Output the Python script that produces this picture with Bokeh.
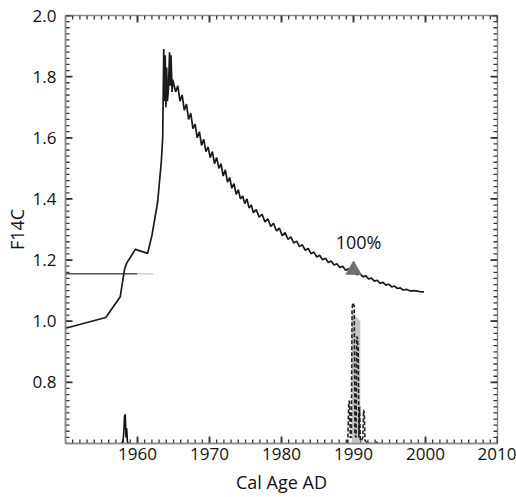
from bokeh.plotting import figure
from bokeh.models import FixedTicker, Range1d, ColumnDataSource
from bokeh.embed import file_html
from bokeh.resources import INLINE
from bokeh.core.properties import value

# ---- data ----
curve_year = [1950.0, 1955.6, 1957.6, 1958.2, 1958.5, 1959.7, 1961.4, 1962.0, 1962.8,
              1963.3, 1963.5, 1963.65, 1963.75, 1963.85, 1963.95, 1964.05, 1964.15, 1964.3,
              1964.45, 1964.55, 1964.65, 1964.8, 1964.9,
              1965.0, 1965.3, 1965.6, 1965.9, 1966.2, 1966.5, 1966.8, 1967.1, 1967.4, 1967.7,
              1968.0, 1968.3, 1968.6, 1968.9, 1969.2, 1969.5, 1969.8, 1970.1, 1970.4, 1970.7,
              1971.0, 1971.3, 1971.6, 1971.9, 1972.2, 1972.5, 1972.8, 1973.1, 1973.4, 1973.7,
              1974.0, 1974.3, 1974.6, 1974.9, 1975.2, 1975.5, 1975.8, 1976.1, 1976.5, 1976.9,
              1977.3, 1977.7, 1978.1, 1978.5, 1978.9, 1979.3, 1979.7, 1980.1, 1980.5, 1980.9,
              1981.3, 1981.7, 1982.1, 1982.5, 1982.9, 1983.3, 1983.7, 1984.1, 1984.5, 1984.9,
              1985.3, 1985.7, 1986.1, 1986.5, 1986.9, 1987.3, 1987.7, 1988.1, 1988.5, 1988.9,
              1989.3, 1989.7, 1990.1, 1990.5, 1990.9, 1991.3, 1991.7, 1992.1, 1992.5, 1992.9,
              1993.3, 1993.7, 1994.1, 1994.5, 1994.9, 1995.3, 1995.7, 1996.1, 1996.5, 1996.9,
              1997.4, 1997.9, 1998.5, 1999.2, 1999.8]
curve_f14c = [0.977, 1.012, 1.08, 1.17, 1.19, 1.235, 1.222, 1.28, 1.39,
              1.52, 1.60, 1.89, 1.72, 1.87, 1.70, 1.83, 1.72, 1.76,
              1.88, 1.77, 1.87, 1.75, 1.79,
              1.78, 1.75, 1.77, 1.72, 1.74, 1.69, 1.71, 1.66, 1.68, 1.63,
              1.645, 1.60, 1.62, 1.575, 1.595, 1.555, 1.57, 1.535, 1.555, 1.515,
              1.535, 1.50, 1.515, 1.475, 1.495, 1.455, 1.47, 1.435, 1.45, 1.415,
              1.43, 1.40, 1.41, 1.385, 1.40, 1.37, 1.38, 1.355, 1.365, 1.34,
              1.35, 1.325, 1.335, 1.31, 1.32, 1.295, 1.305, 1.28, 1.29, 1.268,
              1.276, 1.256, 1.262, 1.244, 1.25, 1.232, 1.238, 1.221, 1.226, 1.21,
              1.216, 1.201, 1.206, 1.192, 1.197, 1.184, 1.188, 1.176, 1.18, 1.167,
              1.172, 1.159, 1.164, 1.152, 1.156, 1.145, 1.149, 1.138, 1.141, 1.131,
              1.134, 1.124, 1.127, 1.118, 1.121, 1.112, 1.115, 1.107, 1.109, 1.102,
              1.104, 1.099, 1.1, 1.097, 1.096]

ref_year = [1950.0, 1960.0]
ref_f14c = [1.155, 1.155]
ref_ext_year = [1960.0, 1962.2]
ref_ext_f14c = [1.155, 1.155]

marker_year = [1990.0]
marker_f14c = [1.168]
marker_label = ["100%"]
label_year = [1990.7]
label_f14c = [1.258]

prob1_year = [1957.8, 1958.0, 1958.1, 1958.2, 1958.3, 1958.4, 1958.5, 1958.6, 1958.8]
prob1_f14c = [0.6, 0.61, 0.64, 0.69, 0.695, 0.62, 0.65, 0.605, 0.6]

prob2_year = [1989.2, 1989.35, 1989.45, 1989.55, 1989.7, 1989.8, 1989.9, 1990.0, 1990.1, 1990.2,
              1990.35, 1990.45, 1990.55, 1990.65, 1990.75, 1990.85, 1990.95, 1991.1, 1991.3,
              1991.4, 1991.5, 1991.6, 1992.0, 1993.2, 1993.3, 1993.45, 1994.0]
prob2_f14c = [0.6, 0.74, 0.735, 0.62, 0.62, 1.04, 1.06, 1.055, 1.05, 0.63,
              0.62, 0.95, 0.945, 0.905, 0.62, 0.72, 0.61, 0.61, 0.62,
              0.71, 0.70, 0.61, 0.6, 0.6, 0.607, 0.6, 0.6]

band_year = [1989.8, 1989.8, 1990.95, 1990.95]
band_f14c = [0.6, 1.03, 1.0, 0.6]

x_ticks = [1960, 1970, 1980, 1990, 2000, 2010]
y_ticks = [0.8, 1.0, 1.2, 1.4, 1.6, 1.8, 2.0]
x_minor = list(range(1950, 2011))
y_minor = [round(0.6 + 0.02 * i, 2) for i in range(71)]

X0, X1 = 1950, 2010
Y0, Y1 = 0.6, 2.0
FRAME_W, FRAME_H = 432, 428
FONT = "Open Sans"

p = figure(frame_width=FRAME_W, frame_height=FRAME_H, output_backend="svg", toolbar_location=None,
           x_range=Range1d(X0, X1), y_range=Range1d(Y0, Y1),
           min_border_left=65, min_border_right=19, min_border_top=15, min_border_bottom=54)
p.grid.visible = False
p.outline_line_color = "#8c8c8c"
p.outline_line_width = 1.5
p.background_fill_color = "white"
p.border_fill_color = "white"

for ax, ticks, minor in ((p.xaxis[0], x_ticks, x_minor), (p.yaxis[0], y_ticks, y_minor)):
    ax.ticker = FixedTicker(ticks=ticks, minor_ticks=minor)
    ax.axis_line_color = "#8c8c8c"
    ax.axis_line_width = 1.5
    ax.major_tick_in = 0
    ax.major_tick_out = 0
    ax.minor_tick_in = 0
    ax.minor_tick_out = 0
    ax.major_label_text_font = FONT
    ax.major_label_text_font_size = "17px"
    ax.major_label_text_color = "#111111"
    ax.axis_label_text_font = FONT
    ax.axis_label_text_font_size = "18px"
    ax.axis_label_text_font_style = "normal"
    ax.axis_label_text_color = "#111111"
p.xaxis[0].major_label_overrides = {t: str(t) for t in x_ticks}
p.yaxis[0].major_label_overrides = {t: f"{t:.1f}" for t in y_ticks}
p.xaxis[0].axis_label = "Cal Age AD"
p.yaxis[0].axis_label = "F14C"
p.xaxis[0].major_label_standoff = 4
p.xaxis[0].axis_label_standoff = 7
p.yaxis[0].major_label_standoff = 9
p.yaxis[0].axis_label_standoff = 1

# inward tick marks on all four sides, lengths in pixels converted to data units
dx = (X1 - X0) / FRAME_W
dy = (Y1 - Y0) / FRAME_H
TICK_COLOR = "#333333"
MAJ, MIN = 7, 4
def yticks(vals, length, lw):
    n = len(vals)
    p.segment(x0=[X0] * n, y0=vals, x1=[X0 + length * dx] * n, y1=vals, line_color=TICK_COLOR, line_width=lw)
    p.segment(x0=[X1] * n, y0=vals, x1=[X1 - length * dx] * n, y1=vals, line_color=TICK_COLOR, line_width=lw)
def xticks(vals, length, lw):
    n = len(vals)
    p.segment(x0=vals, y0=[Y0] * n, x1=vals, y1=[Y0 + length * dy] * n, line_color=TICK_COLOR, line_width=lw)
    p.segment(x0=vals, y0=[Y1] * n, x1=vals, y1=[Y1 - length * dy] * n, line_color=TICK_COLOR, line_width=lw)
yticks(y_minor, MIN, 1.3)
yticks(y_ticks, MAJ, 1.8)
xticks(x_minor, MIN, 1.3)
xticks(x_ticks, MAJ, 1.8)

# probability distributions
p.patch(band_year, band_f14c, fill_color="#c4c4c4", line_color=None)
p.line(prob1_year, prob1_f14c, line_color="#111111", line_width=1.6)
p.line(prob2_year, prob2_f14c, line_color="#222222", line_width=1.6, line_dash="4 2")

# reference line
p.line(ref_year, ref_f14c, line_color="#555555", line_width=1.5)
p.line(ref_ext_year, ref_ext_f14c, line_color="#c8c8c8", line_width=1.2)

# main curve
p.line(curve_year, curve_f14c, line_color="#1a1a1a", line_width=1.7)

# marker and label
p.scatter(marker_year, marker_f14c, marker="triangle", size=15, fill_color="#707070",
          line_color="#707070")
src = ColumnDataSource(dict(x=label_year, y=label_f14c, t=marker_label))
p.text(x="x", y="y", text="t", source=src, text_font=value(FONT), text_font_size="18px",
       text_align="center", text_baseline="middle", text_color="#111111")

open("out.html", "w").write(file_html(p, INLINE))
